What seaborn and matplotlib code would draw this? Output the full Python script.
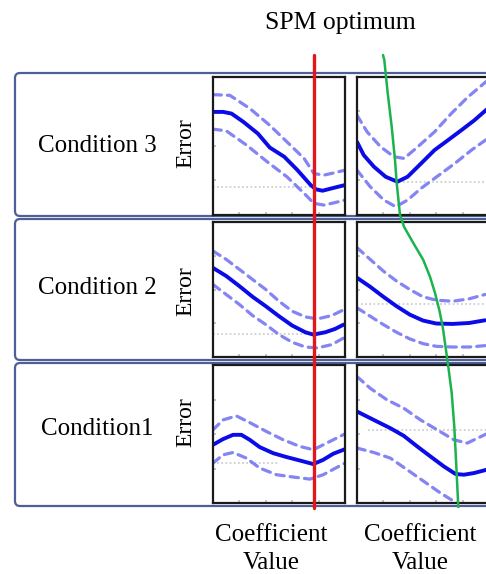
import numpy as np
import pandas as pd
import matplotlib
matplotlib.use("Agg")
import matplotlib.pyplot as plt
from matplotlib.patches import FancyBboxPatch
import seaborn as sns

sns.set_theme(style="white")
plt.rcParams['font.family'] = ['Liberation Serif', 'DejaVu Serif']

W, H = 486, 574

# ---------------- data ----------------
conditions = ["Condition 3", "Condition 2", "Condition1"]
title_text = "SPM optimum"
ylabel_text = "Error"
xlabel_text = "Coefficient\nValue"

# Condition 3, left panel
c3L_mean_x = [0, .077, .14, .23, .34, .43, .54, .64, .74, .78, .83, .92, 1.0]
c3L_mean_y = [.747, .747, .735, .675, .59, .489, .422, .325, .217, .186, .176, .198, .217]
c3L_up_x = [0, .128, .28, .43, .56, .69, .765, .84, .92, 1.0]
c3L_up_y = [.872, .867, .771, .65, .53, .41, .30, .289, .306, .325]
c3L_lo_x = [0, .10, .255, .41, .56, .69, .765, .84, .92, 1.0]
c3L_lo_y = [.622, .61, .506, .386, .277, .157, .084, .072, .089, .108]
c3L_ref = (0.20, 0.0, 0.75)

# Condition 3, right panel
c3R_mean_x = [0, .051, .128, .217, .306, .383, .485, .587, .689, .79, .89, .99]
c3R_mean_y = [.53, .434, .35, .277, .241, .277, .373, .47, .542, .614, .687, .771]
c3R_up_x = [0, .077, .179, .28, .357, .46, .587, .714, .84, .99]
c3R_up_y = [.723, .602, .494, .422, .41, .494, .602, .735, .855, .976]
c3R_lo_x = [0, .10, .204, .293, .383, .485, .587, .74, .867, .99]
c3R_lo_y = [.325, .205, .108, .06, .108, .193, .265, .373, .47, .554]
c3R_ref = (0.24, 0.35, 1.0)

# Condition 2, left panel
c2L_mean_x = [0, .1, .2, .3, .4, .5, .6, .7, .76, .85, .925, .99]
c2L_mean_y = [.66, .60, .525, .446, .376, .302, .233, .183, .166, .183, .208, .24]
c2L_up_x = [0, .1, .2, .3, .4, .5, .6, .7, .79, .9, .99]
c2L_up_y = [.785, .723, .649, .574, .50, .413, .339, .297, .282, .307, .35]
c2L_lo_x = [0, .1, .2, .3, .4, .5, .6, .7, .79, .9, .99]
c2L_lo_y = [.537, .463, .389, .307, .24, .166, .109, .074, .067, .092, .141]
c2L_ref = (0.17, 0.0, 0.73)

# Condition 2, right panel
c2R_mean_x = [0, .1, .2, .3, .4, .5, .6, .725, .85, .97]
c2R_mean_y = [.587, .52, .446, .376, .314, .27, .248, .245, .252, .272]
c2R_up_x = [0, .1, .2, .3, .4, .5, .6, .725, .85, .97]
c2R_up_y = [.81, .723, .636, .562, .50, .446, .421, .413, .431, .463]
c2R_lo_x = [0, .1, .2, .3, .4, .5, .6, .725, .85, .97]
c2R_lo_y = [.364, .302, .24, .183, .134, .099, .079, .074, .074, .084]
c2R_ref = (0.39, 0.03, 1.0)

# Condition 1, left panel
c1L_mean_x = [0, .076, .152, .215, .278, .354, .456, .557, .658, .76, .835, .911, 1.0]
c1L_mean_y = [.422, .463, .494, .494, .458, .405, .361, .333, .308, .282, .313, .357, .39]
c1L_up_x = [0, .076, .177, .278, .405, .532, .658, .76, .861, 1.0]
c1L_up_y = [.53, .602, .631, .583, .518, .458, .41, .386, .434, .501]
c1L_lo_x = [0, .076, .152, .253, .354, .481, .608, .734, .835, 1.0]
c1L_lo_y = [.289, .349, .366, .325, .253, .205, .188, .173, .205, .289]
c1L_ref = (0.29, 0.0, 0.5)

# Condition 1, right panel
c1R_mean_x = [0, .127, .253, .354, .456, .557, .658, .747, .81, .886, .982]
c1R_mean_y = [.663, .602, .542, .487, .41, .337, .265, .21, .205, .217, .241]
c1R_up_x = [0, .101, .228, .354, .481, .608, .734, .835, .982]
c1R_up_y = [.916, .831, .747, .687, .602, .53, .458, .434, .501]
c1R_lo_x = [0, .127, .253, .38, .506, .633, .734, .80]
c1R_lo_y = [.398, .366, .325, .241, .157, .072, .012, -.03]
c1R_ref = (0.53, 0.08, 1.0)

# SPM optimum (red) and other optimum path (green), in pixel coordinates
red_x = [313.5, 313.5]
red_y = [55, 508]
green_x = [383, 384.3, 387.7, 391.7, 395, 396.7, 400, 404, 413.3, 423.3, 430, 435,
           439.3, 442.7, 445, 448.3, 451.7, 454.3, 456, 458.3]
green_y = [55, 60, 93, 126.7, 160, 183, 215, 226.7, 243, 260, 276.7, 293,
           310, 326.7, 343, 366.7, 393, 426.7, 460, 507]

panels = {
    (0, 0): (c3L_mean_x, c3L_mean_y, c3L_up_x, c3L_up_y, c3L_lo_x, c3L_lo_y, c3L_ref),
    (0, 1): (c3R_mean_x, c3R_mean_y, c3R_up_x, c3R_up_y, c3R_lo_x, c3R_lo_y, c3R_ref),
    (1, 0): (c2L_mean_x, c2L_mean_y, c2L_up_x, c2L_up_y, c2L_lo_x, c2L_lo_y, c2L_ref),
    (1, 1): (c2R_mean_x, c2R_mean_y, c2R_up_x, c2R_up_y, c2R_lo_x, c2R_lo_y, c2R_ref),
    (2, 0): (c1L_mean_x, c1L_mean_y, c1L_up_x, c1L_up_y, c1L_lo_x, c1L_lo_y, c1L_ref),
    (2, 1): (c1R_mean_x, c1R_mean_y, c1R_up_x, c1R_up_y, c1R_lo_x, c1R_lo_y, c1R_ref),
}

# ---------------- layout (pixels) ----------------
box_rows = [(73, 216), (219, 360), (363, 506)]
panel_rows = [(77, 215), (222, 357), (365, 503)]
panel_cols = [(213, 345), (357, 489)]
cond_y = [146, 288, 429]
err_y = [143, 291, 422]
err_x = 186

BOX_EDGE = "#4d5f96"
BLUE = "#0b0be8"
LBLUE = "#6e6ef2"

fig = plt.figure(figsize=(W / 100, H / 100), dpi=100)
fig.patch.set_facecolor("white")


def px_axes(x0, y0, x1, y1, z):
    ax = fig.add_axes([x0 / W, 1 - y1 / H, (x1 - x0) / W, (y1 - y0) / H])
    ax.set_zorder(z)
    return ax


# background overlay: boxes and texts
bg = px_axes(0, 0, W, H, 0)
bg.set_xlim(0, W)
bg.set_ylim(H, 0)
bg.axis("off")
for (top, bot) in box_rows:
    bg.add_patch(FancyBboxPatch((15, top), 700, bot - top,
                                boxstyle="round,pad=0,rounding_size=5",
                                facecolor="white", edgecolor=BOX_EDGE, lw=1.6))
for lab, yy in zip(conditions, cond_y):
    bg.text(97, yy, lab, ha="center", va="center", fontsize=18, color="black")
for yy in err_y:
    bg.text(err_x, yy, ylabel_text, ha="center", va="center", rotation=90,
            fontsize=17, color="black")
bg.text(340, 23, title_text, ha="center", va="center", fontsize=18.5, color="black")
for cx in [271, 420]:
    bg.text(cx, 549, xlabel_text, ha="center", va="center", fontsize=18,
            color="black", linespacing=1.32)

# panels
for (r, c), (mx, my, ux, uy, lx, ly, ref) in panels.items():
    (y0, y1) = panel_rows[r]
    (x0, x1) = panel_cols[c]
    ax = px_axes(x0, y0, x1, y1, 2)
    ax.set_facecolor("white")
    ref_y, rx0, rx1 = ref
    ax.plot([rx0, rx1], [ref_y, ref_y], color="#c8c8c8", lw=1.2, ls=(0, (1, 1.5)))
    df = pd.concat([
        pd.DataFrame({"x": ux, "y": uy, "s": "upper"}),
        pd.DataFrame({"x": lx, "y": ly, "s": "lower"}),
    ])
    sns.lineplot(data=df, x="x", y="y", units="s", estimator=None, ax=ax,
                 color=LBLUE, lw=2.3, sort=False, dashes=False, alpha=0.85)
    for line in ax.lines[1:]:
        line.set_dashes((2.6, 1.9))
        line.set_dash_capstyle("round")
    sns.lineplot(x=mx, y=my, ax=ax, color=BLUE, lw=2.8, sort=False, estimator=None)
    ax.lines[-1].set_solid_joinstyle("round")
    ax.lines[-1].set_solid_capstyle("round")
    ax.set_xlim(0, 1)
    ax.set_ylim(0, 1)
    ax.set_xlabel("")
    ax.set_ylabel("")
    ax.set_xticks([0.2, 0.4, 0.6, 0.8])
    ax.set_yticks([0.25, 0.5, 0.75])
    ax.tick_params(direction="in", length=2.5, color="#bbbbbb", labelleft=False,
                   labelbottom=False, left=True, bottom=True)
    for sp in ax.spines.values():
        sp.set_visible(True)
        sp.set_color("#1a1a1a")
        sp.set_linewidth(1.6)
    if ax.get_legend() is not None:
        ax.get_legend().remove()

# foreground overlay: optimum lines
fg = px_axes(0, 0, W, H, 5)
fg.patch.set_alpha(0)
sns.lineplot(x=red_x, y=red_y, ax=fg, color="#e3161b", lw=2.4, sort=False, estimator=None)
sns.lineplot(x=green_x, y=green_y, ax=fg, color="#1cb34e", lw=1.8, sort=False, estimator=None)
fg.lines[-1].set_solid_joinstyle("round")
fg.set_xlim(0, W)
fg.set_ylim(H, 0)
fg.axis("off")

fig.savefig("out.png", dpi=100, facecolor="white")
